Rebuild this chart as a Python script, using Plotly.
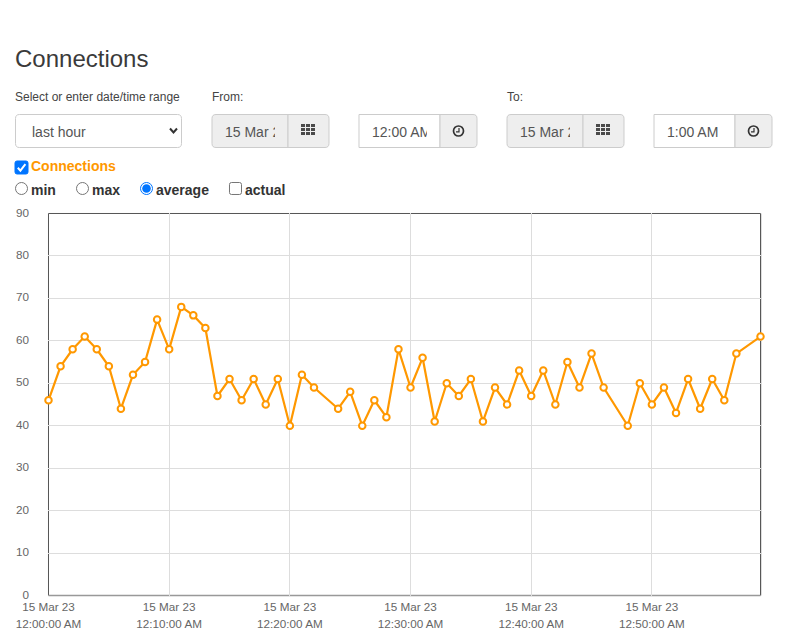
import plotly.graph_objects as go

W, H = 787, 634
L, R, T, B = 48, 761, 213, 596
FONT = "Liberation Sans"
ORANGE = "#ff9800"
BLUE = "#0075ff"

# minutes past midnight, some minutes have no sample
minutes = [0, 1, 2, 3, 4, 5, 6, 7, 8, 9, 10, 11, 12, 13, 14, 15, 16, 17, 18, 19, 20, 21, 22,
           24, 25, 26, 27, 28, 29, 30, 31, 32, 33, 34, 35, 36, 37, 38, 39, 40, 41, 42, 43, 44, 45, 46,
           48, 49, 50, 51, 52, 53, 54, 55, 56, 57, 59]
connections = [46, 54, 58, 61, 58, 54, 44, 52, 55, 65, 58, 68, 66, 63, 47, 51, 46, 51, 45, 51, 40, 52, 49,
               44, 48, 40, 46, 42, 58, 49, 56, 41, 50, 47, 51, 41, 49, 45, 53, 47, 53, 45, 55, 49, 57, 49,
               40, 50, 45, 49, 43, 51, 44, 51, 46, 57, 61]
tick_minutes = [0, 10, 20, 30, 40, 50]
tick_dates = ["15 Mar 23"] * 6
tick_times = ["12:00:00 AM", "12:10:00 AM", "12:20:00 AM", "12:30:00 AM", "12:40:00 AM", "12:50:00 AM"]
y_ticks = [0, 10, 20, 30, 40, 50, 60, 70, 80, 90]


def stamp(m):
    return "2023-03-15 00:%02d:00" % m


def X(px):
    return (px - L) / (R - L)


def Y(py):
    return (B - py) / (B - T)


shapes = []
texts = []


def box(x0, y0, x1, y1, fill="white", line="#ccc", lw=1, rl=0, rr=0):
    # rounded box, rl/rr = radius of left/right corners
    p = "M %f,%f L %f,%f" % (X(x0 + rl), Y(y0), X(x1 - rr), Y(y0))
    if rr:
        p += " Q %f,%f %f,%f L %f,%f Q %f,%f %f,%f" % (X(x1), Y(y0), X(x1), Y(y0 + rr), X(x1), Y(y1 - rr), X(x1), Y(y1), X(x1 - rr), Y(y1))
    else:
        p += " L %f,%f L %f,%f" % (X(x1), Y(y0), X(x1), Y(y1))
    p += " L %f,%f" % (X(x0 + rl), Y(y1))
    if rl:
        p += " Q %f,%f %f,%f L %f,%f Q %f,%f %f,%f" % (X(x0), Y(y1), X(x0), Y(y1 - rl), X(x0), Y(y0 + rl), X(x0), Y(y0), X(x0 + rl), Y(y0))
    else:
        p += " L %f,%f L %f,%f" % (X(x0), Y(y1), X(x0), Y(y0))
    p += " Z"
    shapes.append(dict(type="path", path=p, xref="paper", yref="paper", fillcolor=fill, line=dict(color=line, width=lw), layer="below"))


def circle(cx, cy, r, fill="white", line="#767676", lw=1):
    shapes.append(dict(type="circle", xref="paper", yref="paper", x0=X(cx - r), x1=X(cx + r), y0=Y(cy + r), y1=Y(cy - r),
                       fillcolor=fill, line=dict(color=line, width=lw), layer="below"))


def poly(points, color, lw):
    p = "M " + " L ".join("%f,%f" % (X(a), Y(b)) for a, b in points)
    shapes.append(dict(type="path", path=p, xref="paper", yref="paper", line=dict(color=color, width=lw), layer="below"))


def text(x, y, s, size=14, color="#333", bold=False, clip=None):
    a = dict(x=X(x), y=Y(y), xref="paper", yref="paper", xanchor="left", yanchor="middle", showarrow=False, align="left",
             text="<b>%s</b>" % s if bold else s, font=dict(family=FONT, size=size, color=color), borderpad=0, borderwidth=0)
    if clip:
        a["width"] = clip
    texts.append(a)


def calendar_icon(x, y):
    for r in range(3):
        for c in range(3):
            box(x + c * 5, y + r * 4, x + c * 5 + 4, y + r * 4 + 3, fill="#4a4a4a", line="#4a4a4a", lw=0)


def clock_icon(cx, cy):
    circle(cx, cy, 5, fill="rgba(0,0,0,0)", line="#333", lw=1.7)
    poly([(cx + 0.5, cy - 3), (cx + 0.5, cy + 0.8), (cx - 2.5, cy + 0.8)], "#333", 1.2)


def date_field(x0, s):
    box(x0, 114.5, x0 + 76, 147.5, fill="#eee", rl=4)
    box(x0 + 76, 114.5, x0 + 117, 147.5, fill="#eee", rr=4)
    text(x0 + 13, 131.5, s, color="#555", clip=50)
    calendar_icon(x0 + 89, 124)


def time_field(x0, x1, x2, s):
    box(x0, 114.5, x1, 147.5, fill="white")
    box(x1, 114.5, x2, 147.5, fill="#eee", rr=4)
    text(x0 + 13, 131.5, s, color="#555", clip=55)
    clock_icon((x1 + x2) / 2, 131)


def checkbox(x, y, checked):
    if checked:
        box(x, y, x + 13, y + 13, fill=BLUE, line=BLUE, rl=2, rr=2)
        poly([(x + 2.8, y + 6.8), (x + 5.4, y + 9.6), (x + 10.4, y + 3.2)], "white", 2)
    else:
        box(x + 0.5, y + 0.5, x + 12.5, y + 12.5, fill="white", line="#767676", rl=2, rr=2)


def radio(cx, cy, checked):
    if checked:
        circle(cx, cy, 6, line=BLUE, lw=1)
        circle(cx, cy, 4.3, fill=BLUE, line=BLUE, lw=0)
    else:
        circle(cx, cy, 6)


# page header and form controls
text(15, 58, "Connections", size=24, color="#3a3a3a")
text(15, 97, "Select or enter date/time range", size=12, color="#444")
text(212, 97, "From:", size=12, color="#444")
text(507, 97, "To:", size=12, color="#444")

box(15.5, 114.5, 181.5, 147.5, rl=4, rr=4)
text(32, 131.5, "last hour", color="#555")
poly([(170, 128.5), (173.5, 132.5), (177, 128.5)], "#333", 2)

date_field(212, "15 Mar 2023")
time_field(359, 440, 477, "12:00 AM")
date_field(507, "15 Mar 2023")
time_field(654, 735, 772, "1:00 AM")

checkbox(15, 161, True)
text(31, 166, "Connections", color=ORANGE, bold=True)
radio(21.5, 188.5, False)
text(31, 190, "min", bold=True)
radio(82.5, 188.5, False)
text(92, 190, "max", bold=True)
radio(146.5, 188.5, True)
text(156, 190, "average", bold=True)
checkbox(229, 182, False)
text(245, 190, "actual", bold=True)

# plot frame, half a pixel inside so the lines stay crisp
poly([(L + 0.5, B - 0.5), (L + 0.5, T + 0.5), (R - 0.5, T + 0.5), (R - 0.5, B - 0.5)], "#555", 1)
poly([(R + 0.5, T + 0.5), (R + 0.5, B - 0.5)], "#ddd", 1)
poly([(L + 0.5, B - 0.5), (R - 0.5, B - 0.5)], "#999", 1.5)

fig = go.Figure()
fig.add_trace(go.Scatter(x=[stamp(m) for m in minutes], y=connections, mode="lines+markers", cliponaxis=False,
                         line=dict(color=ORANGE, width=2.2),
                         marker=dict(size=6.5, color="white", line=dict(color=ORANGE, width=2))))

span = '<span style="font-size:11.7px">%s</span>'
fig.update_xaxes(range=["2023-03-14 23:59:57.5", "2023-03-15 00:59:02.5"], tickmode="array", tickvals=[stamp(m) for m in tick_minutes],
                 ticktext=[(span + "<br>" + span) % (d, t) for d, t in zip(tick_dates, tick_times)],
                 tickangle=0, tickfont=dict(family=FONT, size=13, color="#666"), showgrid=True, gridcolor="#ddd", gridwidth=1,
                 ticks="", zeroline=False, showline=False, ticklabelstandoff=1, automargin=False)
fig.update_yaxes(range=[-0.118, 90.118], tickmode="array", tickvals=y_ticks, tickfont=dict(family=FONT, size=11.7, color="#666"),
                 showgrid=True, gridcolor="#ddd", gridwidth=1, ticks="", zeroline=False, showline=False,
                 ticklabelstandoff=18, ticklabelshift=-1, automargin=False)
fig.update_layout(width=W, height=H, margin=dict(l=L, r=W - R, t=T, b=H - B, pad=0, autoexpand=False), showlegend=False,
                  paper_bgcolor="white", plot_bgcolor="rgba(0,0,0,0)", shapes=shapes, annotations=texts)

fig.write_html("out.html", post_script="document.body.style.margin='0';", config=dict(displayModeBar=False))
